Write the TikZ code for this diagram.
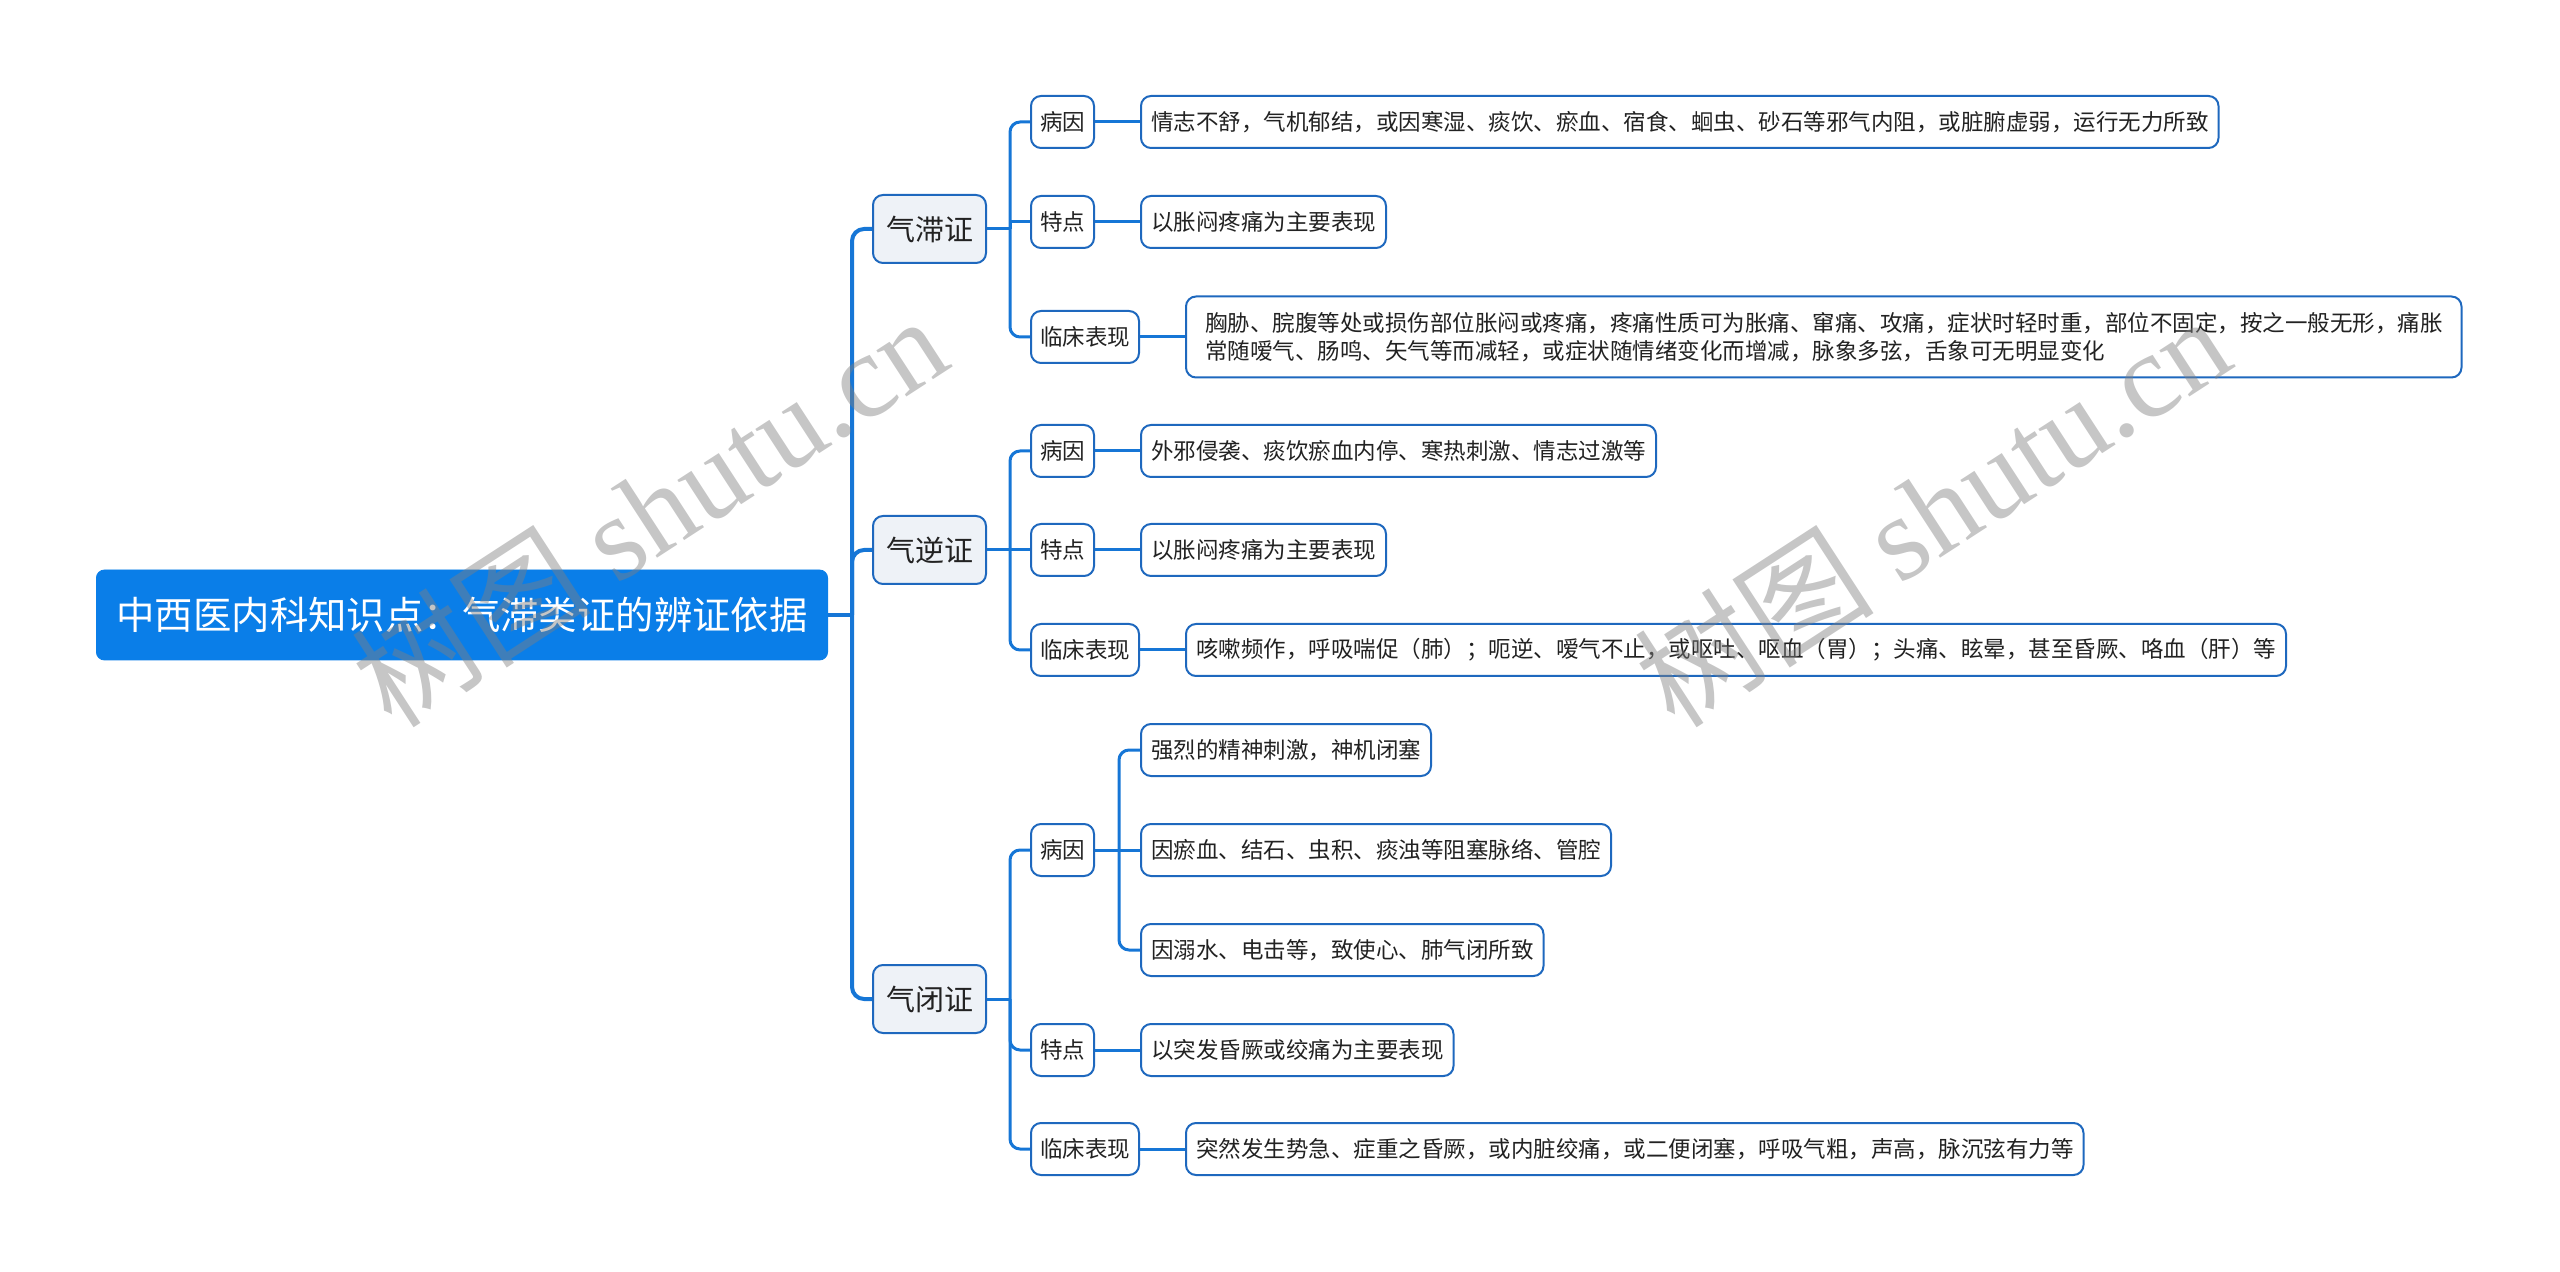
\documentclass[tikz,border=0pt]{standalone}
\usepackage{fontspec}
\setmainfont{Noto Sans CJK SC}
\newfontfamily\wmlatin{Liberation Serif}
\definecolor{rootblue}{RGB}{10,126,232}
\definecolor{linkblue}{RGB}{22,118,214}
\definecolor{boxblue}{RGB}{30,104,190}
\definecolor{lonefill}{RGB}{238,242,247}
\definecolor{txt}{RGB}{34,34,34}
\begin{document}
\begin{tikzpicture}[x=0.5pt,y=-0.5pt,
 rootbox/.style={fill=rootblue, draw=rootblue, rounded corners=4pt, text=white, font=\fontsize{19.2}{22}\selectfont, minimum height=45pt, inner xsep=10pt, anchor=west},
 lone/.style={fill=lonefill, draw=boxblue, line width=1pt, rounded corners=5pt, text=txt, font=\fontsize{14.5}{17}\selectfont, minimum height=34pt, inner xsep=6.5pt, anchor=west},
 ltwo/.style={fill=white, draw=boxblue, line width=1pt, rounded corners=5pt, text=txt, font=\fontsize{11.25}{14}\selectfont, minimum height=26pt, inner xsep=4.5pt, anchor=west},
 lthree/.style={ltwo, inner xsep=5pt},
 mainlink/.style={draw=linkblue, line width=2pt, rounded corners=6pt},
 sublink/.style={draw=linkblue, line width=1.5pt, rounded corners=5pt},
 straightlink/.style={draw=linkblue, line width=1.5pt},
 wm/.style={rotate=33, text=gray, opacity=0.45, font=\fontsize{60}{60}\selectfont}
]
\useasboundingbox (0,0) rectangle (2560,1272);

% root
\node[rootbox] (root) at (96,615) {中西医内科知识点：气滞类证的辨证依据};

% level 1
\node[lone] (qz) at (872,229) {气滞证};
\node[lone] (qn) at (872,550) {气逆证};
\node[lone] (qb) at (872,999) {气闭证};

% level 2
\node[ltwo] (qz1) at (1030,122) {病因};
\node[ltwo] (qz2) at (1030,222) {特点};
\node[ltwo] (qz3) at (1030,337) {临床表现};
\node[ltwo] (qn1) at (1030,451) {病因};
\node[ltwo] (qn2) at (1030,550) {特点};
\node[ltwo] (qn3) at (1030,650) {临床表现};
\node[ltwo] (qb1) at (1030,850) {病因};
\node[ltwo] (qb2) at (1030,1050) {特点};
\node[ltwo] (qb3) at (1030,1149) {临床表现};

% level 3
\node[lthree] (qz1a) at (1140,122) {情志不舒，气机郁结，或因寒湿、痰饮、瘀血、宿食、蛔虫、砂石等邪气内阻，或脏腑虚弱，运行无力所致};
\node[lthree] (qz2a) at (1140,222) {以胀闷疼痛为主要表现};
\node[lthree, inner xsep=9.5pt, minimum height=40.5pt, align=left] (qz3a) at (1185,337) {胸胁、脘腹等处或损伤部位胀闷或疼痛，疼痛性质可为胀痛、窜痛、攻痛，症状时轻时重，部位不固定，按之一般无形，痛胀\\常随嗳气、肠鸣、矢气等而减轻，或症状随情绪变化而增减，脉象多弦，舌象可无明显变化};
\node[lthree] (qn1a) at (1140,451) {外邪侵袭、痰饮瘀血内停、寒热刺激、情志过激等};
\node[lthree] (qn2a) at (1140,550) {以胀闷疼痛为主要表现};
\node[lthree] (qn3a) at (1185,650) {咳嗽频作，呼吸喘促（肺）；呃逆、嗳气不止，或呕吐、呕血（胃）；头痛、眩晕，甚至昏厥、咯血（肝）等};
\node[lthree] (qb1a) at (1140,750) {强烈的精神刺激，神机闭塞};
\node[lthree] (qb1b) at (1140,850) {因瘀血、结石、虫积、痰浊等阻塞脉络、管腔};
\node[lthree] (qb1c) at (1140,950) {因溺水、电击等，致使心、肺气闭所致};
\node[lthree] (qb2a) at (1140,1050) {以突发昏厥或绞痛为主要表现};
\node[lthree] (qb3a) at (1185,1149) {突然发生势急、症重之昏厥，或内脏绞痛，或二便闭塞，呼吸气粗，声高，脉沉弦有力等};

% spine coordinates
\coordinate (s0) at (852,0);
\coordinate (s1) at (1010,0);
\coordinate (s2) at (1119,0);

% main connectors
\draw[mainlink] (root.east) -- (root.east -| s0);
\draw[mainlink] (root.east -| s0) |- (qz.west);
\draw[mainlink] (root.east -| s0) |- (qn.west);
\draw[mainlink] (root.east -| s0) |- (qb.west);

% level 1 -> level 2
\foreach \p in {qz,qn,qb}{
  \draw[straightlink] (\p.east) -- (\p.east -| s1);
}
\draw[sublink] (qz.east -| s1) |- (qz1.west);
\draw[straightlink] (qz.east -| s1) |- (qz2.west);
\draw[sublink] (qz.east -| s1) |- (qz3.west);
\draw[sublink] (qn.east -| s1) |- (qn1.west);
\draw[straightlink] (qn.east -| s1) -- (qn2.west);
\draw[sublink] (qn.east -| s1) |- (qn3.west);
\draw[sublink] (qb.east -| s1) |- (qb1.west);
\draw[sublink] (qb.east -| s1) |- (qb2.west);
\draw[sublink] (qb.east -| s1) |- (qb3.west);

% level 2 -> level 3
\draw[straightlink] (qz1.east) -- (qz1a.west);
\draw[straightlink] (qz2.east) -- (qz2a.west);
\draw[straightlink] (qz3.east) -- (qz3a.west);
\draw[straightlink] (qn1.east) -- (qn1a.west);
\draw[straightlink] (qn2.east) -- (qn2a.west);
\draw[straightlink] (qn3.east) -- (qn3a.west);
\draw[straightlink] (qb1.east) -- (qb1.east -| s2);
\draw[sublink] (qb1.east -| s2) |- (qb1a.west);
\draw[straightlink] (qb1.east -| s2) -- (qb1b.west);
\draw[sublink] (qb1.east -| s2) |- (qb1c.west);
\draw[straightlink] (qb2.east) -- (qb2a.west);
\draw[straightlink] (qb3.east) -- (qb3a.west);

% watermarks
\node[wm] (wm1) at (649,510) {树图 {\wmlatin shutu.cn}};
\node[wm] (wm2) at (1932,510) {树图 {\wmlatin shutu.cn}};
\end{tikzpicture}
\end{document}
